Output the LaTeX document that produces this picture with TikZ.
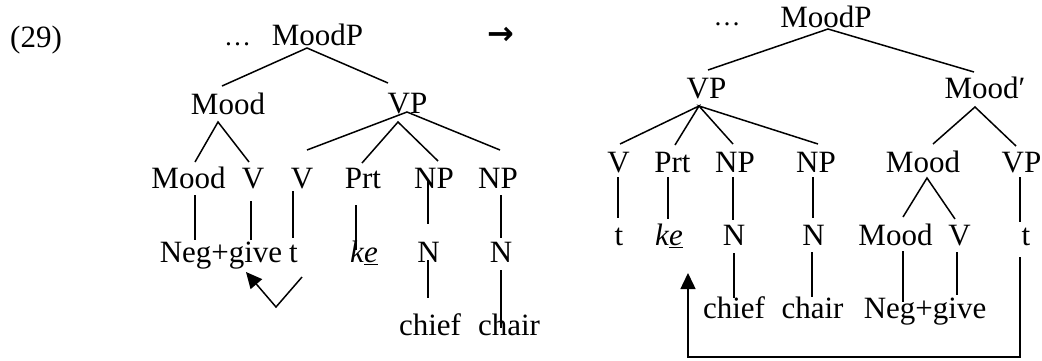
\documentclass[tikz,border=0pt]{standalone}
\usepackage{fontspec}
\setmainfont{Liberation Serif}
\newfontfamily\symfont{DejaVu Sans}
\usetikzlibrary{arrows.meta}
\tikzset{
  lbl/.style={inner sep=0pt, anchor=base, font=\fontsize{31}{37}\selectfont},
  dots/.style={inner sep=0pt, anchor=base, font=\fontsize{27}{32}\selectfont},
  branch/.style={line width=1.5pt, line cap=butt},
  movearrow/.style={line width=1.5pt, -{Triangle[length=16pt,width=15pt]}}
}
\newcommand{\kee}{\textit{k\underline{e}}}
\begin{document}
\begin{tikzpicture}[x=1pt,y=-1pt]
\useasboundingbox (0,0) rectangle (1042,360);
% ---------------- left tree ----------------
\node[lbl, anchor=base west] (ex) at (10,47) {(29)};
\node[dots] (ldots) at (237.5,45) {…};
\node[lbl] (lmoodp) at (317.5,45) {MoodP};
\node[inner sep=0pt, font=\symfont\bfseries\fontsize{32}{36}\selectfont] (trans) at (501,36) {→};
\node[lbl] (lmood) at (228,114) {Mood};
\node[lbl] (lvp) at (407.5,113) {VP};
\node[lbl] (lmood2) at (188.5,188) {Mood};
\node[lbl] (lv1) at (253,188) {V};
\node[lbl] (lv2) at (302,188) {V};
\node[lbl] (lprt) at (363,188) {Prt};
\node[lbl] (lnp1) at (434,188) {NP};
\node[lbl] (lnp2) at (498,188) {NP};
\node[lbl] (lneg) at (221,262) {Neg+give};
\node[lbl] (lt) at (293.5,262) {t};
\node[lbl] (lke) at (364,262) {\kee};
\node[lbl] (ln1) at (428.5,262) {N};
\node[lbl] (ln2) at (501,262) {N};
\node[lbl] (lchief) at (430,335) {chief};
\node[lbl] (lchair) at (509,335) {chair};
% connector points
\coordinate (a0) at (307,48);
\coordinate (a1) at (222,86);
\coordinate (a2) at (388,83);
\coordinate (b0) at (218,122);
\coordinate (b1) at (195,162);
\coordinate (b2) at (249,162);
\coordinate (c0) at (407,112);
\coordinate (c1) at (307,150);
\coordinate (c2) at (500,150);
\coordinate (d0) at (398,122);
\coordinate (d1) at (362,163);
\coordinate (d2) at (438,161);
\coordinate (e1t) at (195,195); \coordinate (e1b) at (195,240);
\coordinate (e2t) at (251,201); \coordinate (e2b) at (251,240);
\coordinate (e3t) at (293,191); \coordinate (e3b) at (293,238);
\coordinate (e4t) at (356,205); \coordinate (e4b) at (356,250);
\coordinate (e5t) at (428,180); \coordinate (e5b) at (428,224);
\coordinate (e6t) at (501,195); \coordinate (e6b) at (501,238);
\coordinate (f1t) at (428,260); \coordinate (f1b) at (428,298);
\coordinate (f2t) at (501,270); \coordinate (f2b) at (501,328);
\coordinate (la0) at (302,277);
\coordinate (la1) at (276,307);
\coordinate (la2) at (246,272);
\draw[branch] (a1) -- (a0) -- (a2);
\draw[branch] (b1) -- (b0) -- (b2);
\draw[branch] (c1) -- (c0) -- (c2);
\draw[branch] (d1) -- (d0) -- (d2);
\foreach \p in {e1,e2,e3,e4,e5,e6,f1,f2} {\draw[branch] (\p t) -- (\p b);}
\draw[movearrow] (la0) -- (la1) -- (la2);
% ---------------- right tree ----------------
\node[dots] (rdots) at (727,25) {…};
\node[lbl] (rmoodp) at (826,27) {MoodP};
\node[lbl] (rvp) at (706.5,98) {VP};
\node[lbl] (rmoodbar) at (985,98) {Mood′};
\node[lbl] (rv) at (618.5,172) {V};
\node[lbl] (rprt) at (672.5,172) {Prt};
\node[lbl] (rnp1) at (735,172) {NP};
\node[lbl] (rnp2) at (816,172) {NP};
\node[lbl] (rmood) at (923,172) {Mood};
\node[lbl] (rvp2) at (1021.5,172) {VP};
\node[lbl] (rt1) at (619,245) {t};
\node[lbl] (rke) at (669,245) {\kee};
\node[lbl] (rn1) at (734,245) {N};
\node[lbl] (rn2) at (813.5,245) {N};
\node[lbl] (rmood2) at (895.5,245) {Mood};
\node[lbl] (rv2) at (959.5,245) {V};
\node[lbl] (rt2) at (1026,245) {t};
\node[lbl] (rchief) at (734,318) {chief};
\node[lbl] (rchair) at (812.5,318) {chair};
\node[lbl] (rneg) at (925,318) {Neg+give};
% connector points
\coordinate (g0) at (828,29);
\coordinate (g1) at (708,70);
\coordinate (g2) at (974,72);
\coordinate (h0) at (699,106);
\coordinate (h1) at (620,144);
\coordinate (h2) at (675,145);
\coordinate (h3) at (733,144);
\coordinate (h4) at (818,144);
\coordinate (i0) at (975,107);
\coordinate (i1) at (933,144);
\coordinate (i2) at (1016,146);
\coordinate (j0) at (927,178);
\coordinate (j1) at (903,217);
\coordinate (j2) at (955,219);
\coordinate (k1t) at (618,177); \coordinate (k1b) at (618,218);
\coordinate (k2t) at (668,177); \coordinate (k2b) at (668,219);
\coordinate (k3t) at (733,177); \coordinate (k3b) at (733,220);
\coordinate (k4t) at (813,177); \coordinate (k4b) at (813,218);
\coordinate (k5t) at (1020,177); \coordinate (k5b) at (1020,222);
\coordinate (m1t) at (734,253); \coordinate (m1b) at (734,298);
\coordinate (m2t) at (812,252); \coordinate (m2b) at (812,297);
\coordinate (m3t) at (903,251); \coordinate (m3b) at (903,302);
\coordinate (m4t) at (957,252); \coordinate (m4b) at (957,295);
\coordinate (ra0) at (1020,257);
\coordinate (ra1) at (1020,357);
\coordinate (ra2) at (688,357);
\coordinate (ra3) at (688,273);
\draw[branch] (g1) -- (g0) -- (g2);
\draw[branch] (h1) -- (h0) -- (h2);
\draw[branch] (h3) -- (h0) -- (h4);
\draw[branch] (i1) -- (i0) -- (i2);
\draw[branch] (j1) -- (j0) -- (j2);
\foreach \p in {k1,k2,k3,k4,k5,m1,m2,m3,m4} {\draw[branch] (\p t) -- (\p b);}
\draw[movearrow] (ra0) -- (ra1) -- (ra2) -- (ra3);
\end{tikzpicture}
\end{document}
